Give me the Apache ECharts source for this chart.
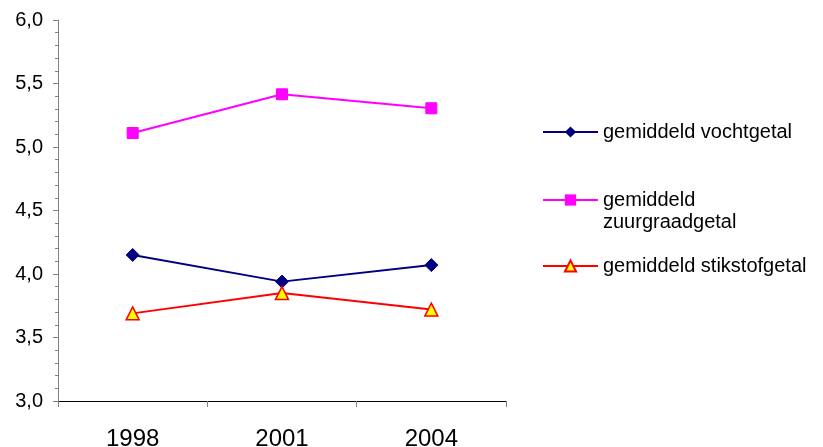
<!DOCTYPE html>
<html><head><meta charset="utf-8">
<script src="https://cdn.jsdelivr.net/npm/echarts@6/dist/echarts.min.js"></script>
<style>html,body{margin:0;padding:0;background:#fff}#c{width:823px;height:447px}</style>
</head><body><div id="c"></div>
<script>
var categories = ['1998', '2001', '2004'];
var vochtgetal = [4.15, 3.94, 4.07];
var zuurgraadgetal = [5.11, 5.415, 5.305];
var stikstofgetal = [3.69, 3.85, 3.72];
var seriesNames = ['gemiddeld vochtgetal', 'gemiddeld zuurgraadgetal', 'gemiddeld stikstofgetal'];
var legendLabels = ['gemiddeld vochtgetal', '\ngemiddeld\nzuurgraadgetal', 'gemiddeld stikstofgetal'];

var FONT = '"Liberation Sans", Arial, sans-serif';
var chart = echarts.init(document.getElementById('c'), null, {renderer: 'canvas'});

function legendFor(i, top) {
  return {
    data: [seriesNames[i]],
    left: 542, top: top, padding: 0,
    itemWidth: 55, itemHeight: 14, itemGap: 0,
    formatter: function () { return legendLabels[i]; },
    textStyle: {fontFamily: FONT, fontSize: 20, color: '#000', lineHeight: 22},
    selectedMode: false
  };
}

chart.setOption({
  animation: false,
  backgroundColor: '#fff',
  grid: {left: 58, right: 317, top: 20, bottom: 46, containLabel: false, outerBoundsMode: 'none'},
  legend: [legendFor(0, 121), legendFor(1, 167), legendFor(2, 255)],
  xAxis: {
    type: 'category', data: categories, boundaryGap: true,
    axisLine: {lineStyle: {color: '#000', width: 1}},
    axisTick: {show: true, length: 6, lineStyle: {color: '#808080'}},
    axisLabel: {fontFamily: FONT, fontSize: 24, color: '#000', margin: 26}
  },
  yAxis: {
    type: 'value', min: 3, max: 6, interval: 0.5,
    splitLine: {show: false},
    axisLine: {show: true, lineStyle: {color: '#808080', width: 1}},
    axisTick: {show: true, length: 5, lineStyle: {color: '#808080'}},
    minorTick: {show: true, splitNumber: 5, length: 3, lineStyle: {color: '#808080'}},
    axisLabel: {fontFamily: FONT, fontSize: 20, color: '#000', margin: 15,
      formatter: function (v) { return v.toFixed(1).replace('.', ','); }}
  },
  series: [
    {name: seriesNames[0], type: 'line', data: vochtgetal,
      symbol: 'diamond', symbolSize: 13,
      lineStyle: {color: '#000080', width: 2},
      itemStyle: {color: '#000080', borderColor: '#000080'}},
    {name: seriesNames[1], type: 'line', data: zuurgraadgetal,
      symbol: 'rect', symbolSize: 11,
      lineStyle: {color: '#FF00FF', width: 2},
      itemStyle: {color: '#FF00FF', borderColor: '#FF00FF'}},
    {name: seriesNames[2], type: 'line', data: stikstofgetal,
      symbol: 'triangle', symbolSize: 13,
      lineStyle: {color: '#FF0000', width: 2},
      itemStyle: {color: '#FFFF00', borderColor: '#FF0000', borderWidth: 1.5}}
  ]
});
</script></body></html>
